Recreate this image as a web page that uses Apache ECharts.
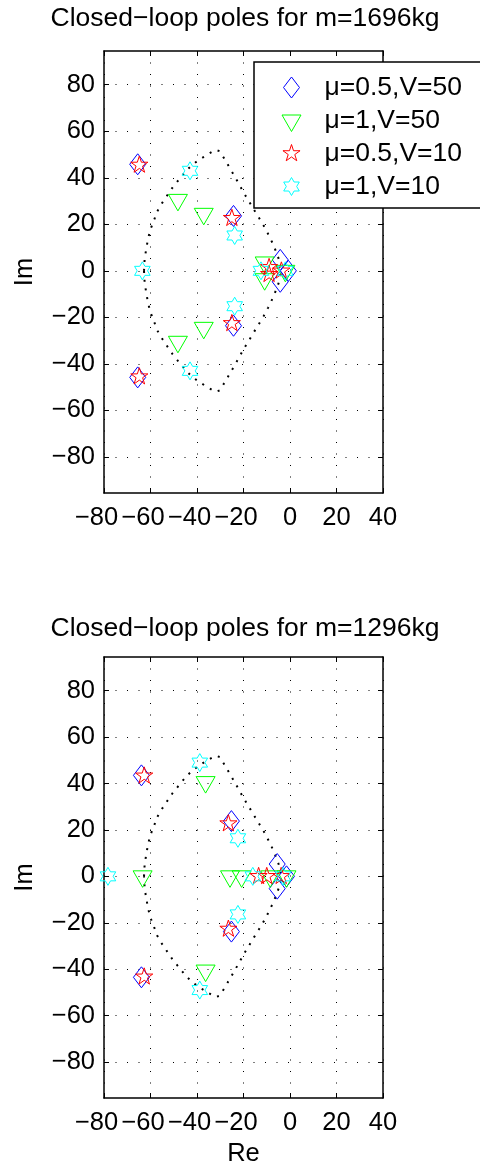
<!DOCTYPE html>
<html><head><meta charset="utf-8">
<script src="https://cdn.jsdelivr.net/npm/echarts@6/dist/echarts.min.js"></script>
<style>html,body{margin:0;padding:0;background:#fff}#c{width:480px;height:1168px}</style>
</head><body><div id="c"></div>
<script>
const FONT = '"Liberation Sans", Arial, Helvetica, sans-serif';
const FS = 25.5;      // tick labels / axis names
const FS_T = 26.5;    // titles / legend
const seriesNames = ['μ=0.5,V=50', 'μ=1,V=50', 'μ=0.5,V=10', 'μ=1,V=10'];
const titles = ['Closed\u2212loop poles for m=1696kg', 'Closed\u2212loop poles for m=1296kg'];
const xTicks = [-80, -60, -40, -20, 0, 20, 40];
const yTicks = [-80, -60, -40, -20, 0, 20, 40, 60, 80];

// m = 1696 kg : [Re, Im]
const m1696_mu05_V50 = [[-65.5,45.8],[-65.5,-45.8],[-24.3,23.6],[-24.3,-23.6],[-4.2,4.7],[-4.2,-4.7],[-0.7,0]];
const m1696_mu1_V50  = [[-48.2,30.5],[-48.2,-30.5],[-37.1,24.5],[-37.1,-24.5],[-10.9,3.6],[-10.9,-3.6],[-2,0]];
const m1696_mu05_V10 = [[-64.8,45.5],[-64.8,-45.5],[-25,22.6],[-25,-22.6],[-9,1.5],[-9,-1.5],[-3.7,0]];
const m1696_mu1_V10  = [[-63.5,0],[-43,43],[-43,-43],[-23.8,15.2],[-23.8,-15.2],[-12.5,0],[-2,0]];

// m = 1296 kg : [Re, Im]
const m1296_mu05_V50 = [[-63.9,43.5],[-63.9,-43.5],[-25.2,23.8],[-25.2,-23.8],[-5.5,5.3],[-5.5,-5.3],[-1.5,0]];
const m1296_mu1_V50  = [[-63.4,0],[-36.3,40.6],[-36.3,-40.6],[-25.8,0],[-20.8,0],[-8.5,0],[-1.5,0]];
const m1296_mu05_V10 = [[-62.7,43.3],[-62.7,-43.3],[-26.5,22.7],[-26.5,-22.7],[-13.5,0],[-10,0],[-3.8,0]];
const m1296_mu1_V10  = [[-78.3,0],[-38.8,49],[-38.8,-49],[-22.4,16.4],[-22.4,-16.4],[-16,0],[-3,0]];

// dotted boundary curve (same in both plots)
const boundaryRe = [-62.8,-62.5,-61.1,-60.0,-58.6,-57.2,-55.3,-52.7,-50.6,-48.2,-44.5,-41.5,-38.8,-35.7,-32.0,-30.2,-28.0,-25.9,-23.8,-21.8,-19.8,-17.6,-15.5,-13.4,-11.3,-9.4,-7.3,-5.5,-4.3,-4.0,
  -4.3,-5.5,-7.3,-9.4,-11.3,-13.4,-15.5,-17.6,-19.8,-21.8,-23.8,-25.9,-28.0,-30.2,-32.0,-35.7,-38.8,-41.5,-44.5,-48.2,-50.6,-52.7,-55.3,-57.2,-58.6,-60.0,-61.1,-62.5,-62.8];
const boundaryIm = [0,5.4,13.6,17.9,21.4,25.4,28.7,32.6,35.7,38.7,43.2,46.0,47.9,49.9,52.0,51.4,47.8,44.2,40.6,37.0,33.4,29.8,26.3,22.9,19.4,15.8,11.5,7.0,3.5,0,
  -3.5,-7.0,-11.5,-15.8,-19.4,-22.9,-26.3,-29.8,-33.4,-37.0,-40.6,-44.2,-47.8,-51.4,-52.0,-49.9,-47.9,-46.0,-43.2,-38.7,-35.7,-32.6,-28.7,-25.4,-21.4,-17.9,-13.6,-5.4,0];

const colors = ['#0000ff', '#00ff00', '#ff0000', '#00ffff'];
const SYM = [
  'path://M0,0M22,22M11,0.5L19,11L11,21.5L3,11Z',
  'path://M0,0M22,22M1.5,5.5L20.5,5.5L11,22Z',
  'path://M0,0M22,22M11,2L13.02,8.22L19.56,8.22L14.27,12.06L16.29,18.28L11,14.44L5.71,18.28L7.73,12.06L2.44,8.22L8.98,8.22Z',
  'path://M0,0M22,22M11,2L13.6,6.5L18.79,6.5L16.2,11L18.79,15.5L13.6,15.5L11,20L8.4,15.5L3.21,15.5L5.8,11L3.21,6.5L8.4,6.5Z'
];
const plotData = [
  [m1696_mu05_V50, m1696_mu1_V50, m1696_mu05_V10, m1696_mu1_V10],
  [m1296_mu05_V50, m1296_mu1_V50, m1296_mu05_V10, m1296_mu1_V10]
];

const gridTops = [51, 657];
const grid = gridTops.map(t => ({left: 104, top: t, width: 279, height: 442}));
const lineBlack = {color: '#000', width: 1.5};
const splitStyle = {show: true, lineStyle: {color: '#000', width: 1, type: [1, 10.5]}};
const labelText = {color: '#000', fontSize: FS, fontFamily: FONT};
// x tick labels split over two overlapping axes so neighbouring labels never collide
const xLabelSets = [xTicks.filter((v, i) => i % 2 === 0), xTicks.filter((v, i) => i % 2 === 1)];
const xFmt = v => v < 0 ? '\u2212' + (-v) + '{p|\u2212}' : String(v);

const xAxis = [], yAxis = [], series = [];
grid.forEach((g, gi) => {
  const base = xAxis.length;
  xAxis.push({
    gridIndex: gi, type: 'value', min: -80, max: 40, interval: 20, position: 'bottom',
    axisLine: {show: true, onZero: false, lineStyle: lineBlack},
    axisTick: {show: true, inside: true, length: 5, lineStyle: {color: '#000', width: 1}},
    axisLabel: Object.assign({margin: 12, customValues: xLabelSets[0], formatter: xFmt,
      rich: {p: {color: 'rgba(0,0,0,0)', fontSize: FS, fontFamily: FONT}}}, labelText),
    splitLine: splitStyle,
    name: gi === 1 ? 'Re' : '', nameLocation: 'middle', nameGap: 43,
    nameTextStyle: labelText
  });
  xAxis.push({
    gridIndex: gi, type: 'value', min: -80, max: 40, interval: 20, position: 'top',
    axisLine: {show: true, onZero: false, lineStyle: lineBlack},
    axisTick: {show: true, inside: true, length: 5, lineStyle: {color: '#000', width: 1}},
    axisLabel: {show: false}, splitLine: {show: false}
  });
  xAxis.push({
    gridIndex: gi, type: 'value', min: -80, max: 40, interval: 20, position: 'bottom', offset: 0,
    axisLine: {show: false, onZero: false}, axisTick: {show: false}, splitLine: {show: false},
    axisLabel: Object.assign({margin: 12, customValues: xLabelSets[1], formatter: xFmt,
      rich: {p: {color: 'rgba(0,0,0,0)', fontSize: FS, fontFamily: FONT}}}, labelText)
  });
  yAxis.push({
    gridIndex: gi, type: 'value', min: -95.5, max: 94.5, position: 'left',
    axisLine: {show: true, onZero: false, lineStyle: lineBlack},
    axisTick: {show: true, inside: true, length: 5, customValues: yTicks, lineStyle: {color: '#000', width: 1}},
    axisLabel: Object.assign({margin: 9, customValues: yTicks,
      formatter: v => v < 0 ? '\u2212' + (-v) : String(v)}, labelText),
    splitLine: splitStyle,
    name: 'Im', nameLocation: 'middle', nameGap: 66, nameTextStyle: labelText
  });
  yAxis.push({
    gridIndex: gi, type: 'value', min: -95.5, max: 94.5, position: 'right',
    axisLine: {show: true, onZero: false, lineStyle: lineBlack},
    axisTick: {show: true, inside: true, length: 5, customValues: yTicks, lineStyle: {color: '#000', width: 1}},
    axisLabel: {show: false}, splitLine: {show: false}
  });
  series.push({
    type: 'line', xAxisIndex: base, yAxisIndex: gi * 2, silent: true, symbol: 'none', z: 2,
    data: boundaryRe.map((r, i) => [r, boundaryIm[i]]),
    lineStyle: {color: '#000', width: 2, type: [2, 6.8]}
  });
  plotData[gi].forEach((d, si) => {
    series.push({
      type: 'scatter', name: seriesNames[si], xAxisIndex: base, yAxisIndex: gi * 2,
      data: d, symbol: SYM[si], symbolSize: 22, symbolKeepAspect: true, z: 3 + si,
      itemStyle: {color: 'rgba(0,0,0,0)', borderColor: colors[si], borderWidth: 1, opacity: 1},
      emphasis: {disabled: true}
    });
  });
});

const chart = echarts.init(document.getElementById('c'), null, {renderer: 'canvas'});
chart.setOption({
  animation: false,
  backgroundColor: '#fff',
  grid: grid,
  xAxis: xAxis,
  yAxis: yAxis,
  legend: {
    data: seriesNames, orient: 'vertical', left: 254, top: 62,
    padding: [12, 70, 8, 26], itemWidth: 56, itemHeight: 22, itemGap: 6,
    symbolKeepAspect: true, backgroundColor: '#fff', borderColor: '#000', borderWidth: 1.5,
    textStyle: {color: '#000', fontSize: FS_T, fontFamily: FONT},
    itemStyle: {borderWidth: 1}, selectedMode: false, z: 20
  },
  graphic: titles.map((t, i) => ({
    type: 'text', x: 245, y: [5, 615][i], z: 30,
    style: {text: t, fill: '#000', font: FS_T + 'px ' + FONT, textAlign: 'center', textVerticalAlign: 'top'}
  })),
  series: series
});
</script></body></html>
